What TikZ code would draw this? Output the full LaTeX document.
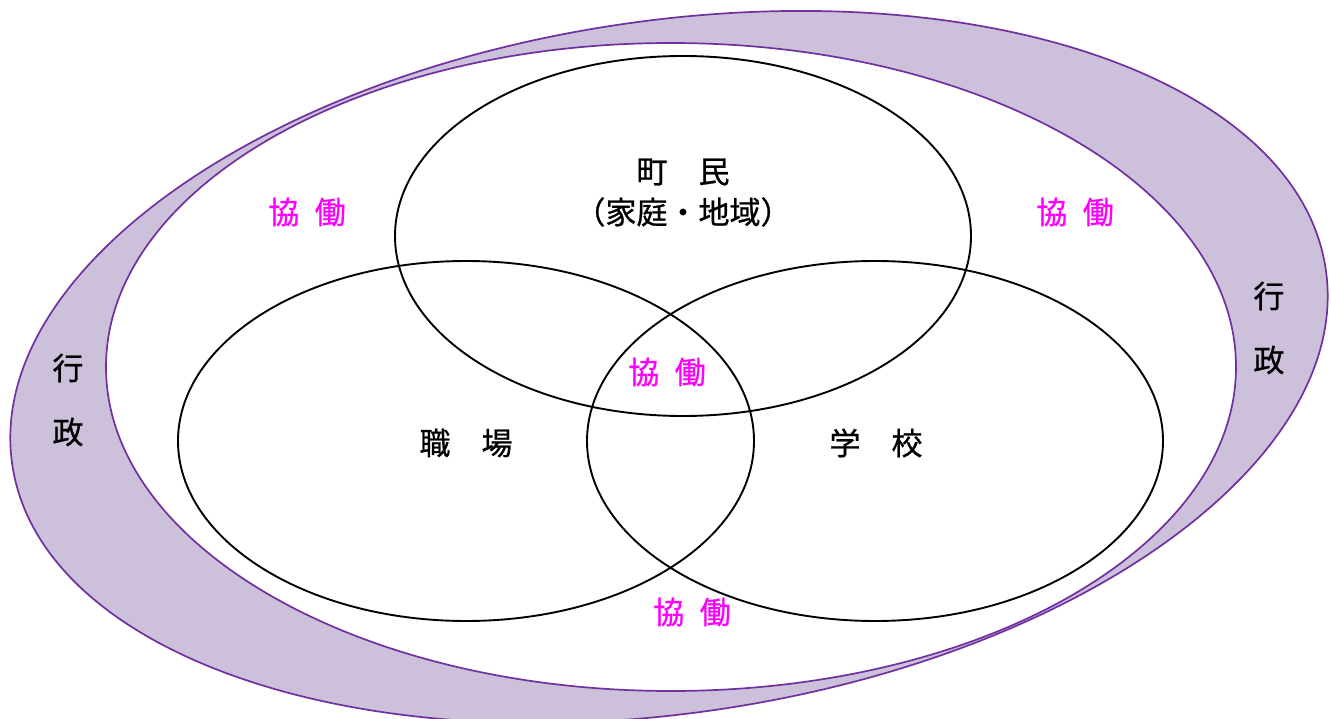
\documentclass[tikz,border=0pt]{standalone}
\usepackage{fontspec}
\newfontfamily\jp[FakeBold=0.8]{Noto Sans CJK JP}
\definecolor{bandfill}{HTML}{CCC0DA}
\definecolor{bandline}{HTML}{7030A0}
\definecolor{kyo}{HTML}{FF00FF}
\begin{document}
\begin{tikzpicture}[x=1pt,y=-1pt,
  band/.style={draw=bandline,line width=1.7pt},
  venn/.style={draw=black,line width=1.9pt},
  lab/.style={font=\jp\fontsize{31}{37}\selectfont,inner sep=0pt,text=black},
  kw/.style={font=\jp\fontsize{31}{37}\selectfont,inner sep=0pt,text=kyo}]
\useasboundingbox (0,0) rectangle (1331,719);
\clip (0,0) rectangle (1331,719);
\fill[white] (0,0) rectangle (1331,719);
% outer band
\draw[band,fill=bandfill,rotate around={8.5:(669,367)}] (669,367) ellipse [x radius=664, y radius=346];
% inner white area
\draw[band,fill=white] (671,367) ellipse [x radius=565, y radius=324];
% three circles
\draw[venn] (683,236) ellipse [x radius=288, y radius=180];
\draw[venn] (466,441) ellipse [x radius=288, y radius=180];
\draw[venn] (875,441) ellipse [x radius=288, y radius=180];
% labels
\node[lab] (chomin) at (683,172) {町　民};
\node[lab] (katei) at (683,212) {（家庭・地域）};
\node[lab] (shokuba) at (466,443) {職　場};
\node[lab] (gakko) at (876,443) {学　校};
\node[lab] (gyoL1) at (68,368) {行};
\node[lab] (gyoL2) at (68,432) {政};
\node[lab] (gyoR1) at (1269,296) {行};
\node[lab] (gyoR2) at (1269,360) {政};
\node[kw] (k1) at (307,212) {協\hspace{0.5em}働};
\node[kw] (k2) at (1075,212) {協\hspace{0.5em}働};
\node[kw] (k3) at (667,372) {協\hspace{0.5em}働};
\node[kw] (k4) at (692,612) {協\hspace{0.5em}働};
\end{tikzpicture}
\end{document}
